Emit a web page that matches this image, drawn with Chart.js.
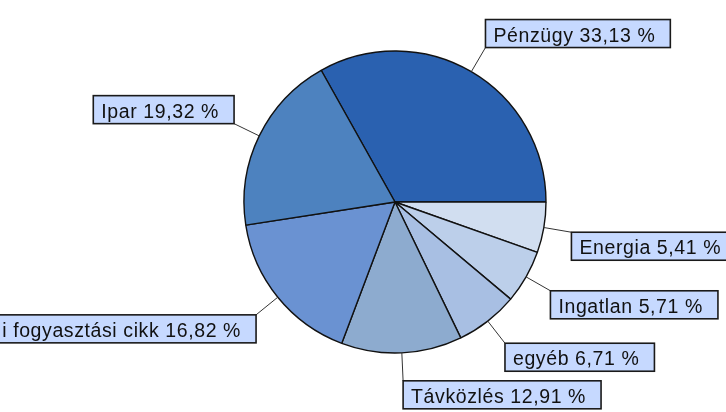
<!DOCTYPE html>
<html lang="hu">
  <head>
    <meta charset="UTF-8" />
    <title>Ágazati megoszlás</title>
    <style>
      body {
        margin: 0;
        background: #ffffff;
      }
      canvas {
        display: block;
      }
    </style>
    <script src="https://cdn.jsdelivr.net/npm/chart.js"></script>
  </head>
  <body>
    <canvas id="sectorPie" width="726" height="412"></canvas>

    <script>
      // slices in clockwise order, starting with Pénzügy
      const sectors = [
        "Pénzügy",
        "Energia",
        "Ingatlan",
        "egyéb",
        "Távközlés",
        "i fogyasztási cikk",
        "Ipar",
      ];
      const shares = [33.13, 5.41, 5.71, 6.71, 12.91, 16.82, 19.32];
      const sliceColors = [
        "#2a61b0",
        "#d1def0",
        "#bccfea",
        "#a8bfe3",
        "#8dabcf",
        "#6a92d2",
        "#4d82bf",
      ];

      const fmt = (v) => v.toFixed(2).replace(".", ",") + " %";

      // boxed labels with a short leader line from the middle of each slice
      const boxLabels = {
        id: "boxLabels",
        afterDatasetsDraw(chart) {
          const ctx = chart.ctx;
          const arcs = chart.getDatasetMeta(0).data;
          const leader = 28;
          const boxH = 28;
          ctx.save();
          ctx.font = '19.5px "Liberation Sans", Arial, sans-serif';
          ctx.letterSpacing = "0.6px";
          arcs.forEach((arc, i) => {
            const mid = (arc.startAngle + arc.endAngle) / 2;
            const dx = Math.cos(mid);
            const dy = Math.sin(mid);
            const x0 = arc.x + dx * arc.outerRadius;
            const y0 = arc.y + dy * arc.outerRadius;
            const x1 = x0 + dx * leader;
            const y1 = y0 + dy * leader;

            ctx.strokeStyle = "#333";
            ctx.lineWidth = 1;
            ctx.beginPath();
            ctx.moveTo(x0, y0);
            ctx.lineTo(x1, y1);
            ctx.stroke();

            const text = sectors[i] + " " + fmt(shares[i]);
            const tw = ctx.measureText(text).width;
            const boxW = tw + 23;
            const bx = dx >= 0 ? x1 : x1 - boxW;
            const by = dy < 0 ? y1 - boxH : y1;

            ctx.fillStyle = "#c6d9ff";
            ctx.fillRect(bx, by, boxW, boxH);
            ctx.strokeStyle = "#1a1a1a";
            ctx.lineWidth = 1.6;
            ctx.strokeRect(bx, by, boxW, boxH);

            ctx.fillStyle = "#111";
            ctx.textAlign = "left";
            ctx.textBaseline = "alphabetic";
            ctx.fillText(text, bx + 8, by + 22);
          });
          ctx.restore();
        },
      };

      new Chart(document.getElementById("sectorPie").getContext("2d"), {
        type: "pie",
        data: {
          labels: sectors,
          datasets: [
            {
              data: shares,
              backgroundColor: sliceColors,
              borderColor: "#111",
              borderWidth: 1.4,
              hoverOffset: 0,
            },
          ],
        },
        options: {
          responsive: false,
          animation: false,
          rotation: -(shares[0] / 100) * 360 + 90,
          radius: 151,
          layout: {
            padding: { left: 244, right: 180, top: 51, bottom: 59 },
          },
          plugins: {
            legend: { display: false },
            tooltip: { enabled: false },
          },
        },
        plugins: [boxLabels],
      });
    </script>
  </body>
</html>
